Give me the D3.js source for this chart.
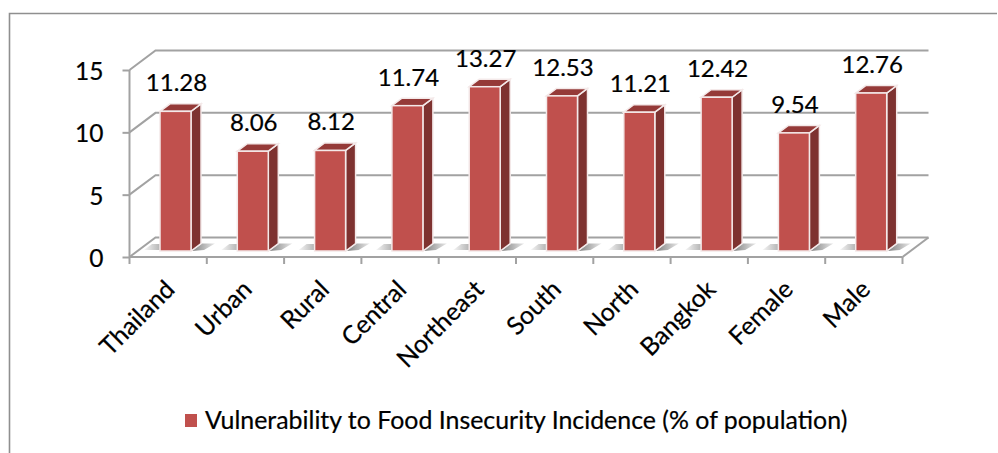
<!DOCTYPE html>
<html>
<head>
<meta charset="utf-8">
<style>
html,body{margin:0;padding:0;background:#fff}
svg{display:block}
text{font-family:Lato,"Open Sans",sans-serif;fill:#000;stroke:#000;stroke-width:.22px}
</style>
<script src="https://cdn.jsdelivr.net/npm/d3@7/dist/d3.min.js"></script>
</head>
<body>
<script>
const categories = ["Thailand","Urban","Rural","Central","Northeast","South","North","Bangkok","Female","Male"];
const values = [11.28,8.06,8.12,11.74,13.27,12.53,11.21,12.42,9.54,12.76];
const yTicks = [0,5,10,15];
const seriesName = "Vulnerability to Food Insecurity Incidence (% of population)";

const W = 998, H = 453;
const front = {left:129.5, right:902.5, base:257, top:70};
const depth = {dx:26, dy:-19.5};
const barBase = 251, barUnit = 12.38;
const side = {dx:10, dy:-7.5};
const gray = "#a2a2a2";

const svg = d3.select("body").append("svg").attr("width",W).attr("height",H);
const defs = svg.append("defs");
const fade = defs.append("linearGradient").attr("id","floorShade");
fade.append("stop").attr("offset","0").attr("stop-color","#808080");
fade.append("stop").attr("offset","1").attr("stop-color","#e8e8e8");
const fadeIn = defs.append("linearGradient").attr("id","floorShadeIn");
fadeIn.append("stop").attr("offset","0").attr("stop-color","#f6f6f6");
fadeIn.append("stop").attr("offset","1").attr("stop-color","#b4b4b4");

// Outer chart frame: open on the right and bottom
svg.append("path").attr("d",`M${W-1},13.5H9.5V${H}`)
  .attr("fill","none").attr("stroke","#8f8f8f").attr("stroke-width",1.6);

const x = d3.scaleBand().domain(categories).range([front.left,front.right]).paddingInner(0).paddingOuter(0);
const y = d3.scaleLinear().domain([0,15]).range([front.base,front.top]);
const barH = d3.scaleLinear().domain([0,1]).range([0,barUnit]);

// Back wall gridlines and the diagonals joining them to the value axis
const walls = svg.append("g").attr("stroke",gray).attr("fill","none");
walls.selectAll("path.grid").data(yTicks).join("path").attr("class","grid")
  .attr("stroke-width",2)
  .attr("d",d=>`M${front.left},${y(d)}L${front.left+depth.dx},${y(d)+depth.dy}H${front.right+depth.dx}`);
// Floor edge on the right
walls.append("path").attr("stroke-width",2)
  .attr("d",`M${front.right},${front.base}L${front.right+depth.dx},${front.base+depth.dy}`);

// Value axis
const yAxis = d3.axisLeft(y).tickValues(yTicks).tickSize(7).tickPadding(19);
const yG = svg.append("g").attr("transform",`translate(${front.left},0)`).call(yAxis);
yG.selectAll("path,line").attr("stroke",gray).attr("stroke-width",2);
yG.select("path").attr("d",`M0,${front.top}V${front.base}`);
yG.selectAll("text").attr("font-size",24.5).attr("font-family","Lato").attr("fill","#000").attr("dy",".32em").attr("y",1.5);

// Category axis with ticks on the band edges
const xEdges = categories.map(c=>x(c)).concat(front.right);
const xG = svg.append("g").attr("stroke",gray).attr("stroke-width",2);
xG.append("line").attr("x1",front.left).attr("x2",front.right).attr("y1",front.base).attr("y2",front.base);
xG.selectAll("line.tick").data(xEdges).join("line").attr("class","tick")
  .attr("x1",d=>d).attr("x2",d=>d).attr("y1",front.base).attr("y2",front.base+7);

// Bars: front face, top and side faces, plus a soft shadow on the floor
const barW = 31, barOff = 30.5;
const bars = svg.append("g").selectAll("g").data(categories.map((c,i)=>({c,v:values[i]}))).join("g")
  .attr("transform",d=>`translate(${x(d.c)+barOff},0)`);
bars.append("path").attr("fill","url(#floorShade)")
  .attr("d",`M${barW+1},${barBase}l${side.dx},${side.dy}h13l-11,6.5z`);
bars.append("path").attr("fill","url(#floorShadeIn)")
  .attr("d",`M-16,${barBase-1}l8,-6h8v6z`);
bars.append("path").attr("fill","#7e3230").attr("stroke","#f4e9e9").attr("stroke-width",1.5)
  .attr("d",d=>`M${barW},${barBase}V${barBase-barH(d.v)}l${side.dx},${side.dy}V${barBase+side.dy}z`);
bars.append("path").attr("fill","#953a38").attr("stroke","#f4e9e9").attr("stroke-width",1.5)
  .attr("d",d=>`M0,${barBase-barH(d.v)}l${side.dx},${side.dy}h${barW}l${-side.dx},${-side.dy}z`);
bars.append("rect").attr("fill","#c0504d").attr("stroke","#f4e9e9").attr("stroke-width",1.5)
  .attr("x",0).attr("width",barW).attr("y",d=>barBase-barH(d.v)).attr("height",d=>barH(d.v));

// Value labels above each bar
bars.append("text").attr("x",16.5).attr("y",d=>barBase-barH(d.v)-20)
  .attr("text-anchor","middle").attr("font-size",24)
  .text(d=>d3.format(".2f")(d.v));

// Rotated category labels
svg.append("g").selectAll("text").data(categories).join("text")
  .attr("text-anchor","end").attr("font-size",25)
  .attr("transform",d=>`translate(${x(d)+x.bandwidth()/2+8},${front.base+34}) rotate(-45)`)
  .text(d=>d);

// Legend
svg.append("rect").attr("x",185).attr("y",414).attr("width",12).attr("height",13).attr("fill","#c0504d");
svg.append("text").attr("x",205).attr("y",428.5).attr("font-size",24.9).text(seriesName);
</script>
</body>
</html>
